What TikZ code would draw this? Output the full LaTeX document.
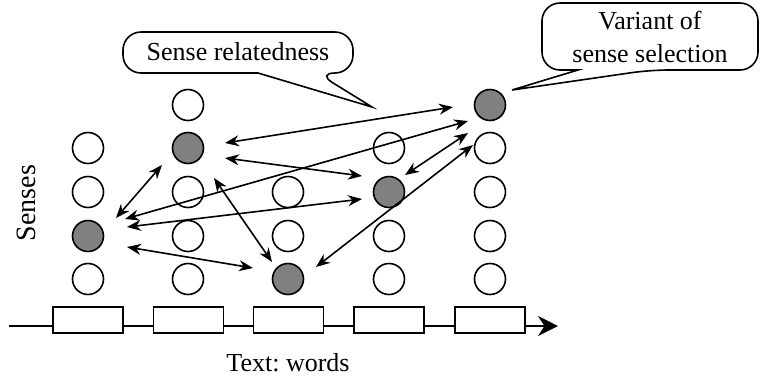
\documentclass[tikz,border=0pt]{standalone}
\usepackage{fontspec}
\setmainfont{Liberation Serif}
\usetikzlibrary{arrows.meta}
\frenchspacing

\begin{document}
\begin{tikzpicture}[x=0.5pt,y=-0.5pt,font=\fontsize{13}{16.5}\selectfont,
    sense/.style={draw,circle,line width=0.8pt,minimum size=15.5pt,inner sep=0pt},
    chosen/.style={sense,fill=black!50},
    word/.style={draw,fill=white,line width=0.8pt,minimum width=35pt,minimum height=13pt,inner sep=0pt},
    link/.style={{Stealth[length=7pt,width=5.5pt]}-{Stealth[length=7pt,width=5.5pt]},line width=0.8pt},
    bubble/.style={draw,fill=white,line width=0.8pt}]
    \useasboundingbox (0,0) rectangle (762,382);

    %Callouts
    \draw[bubble] (258,73) [rounded corners=9] -- (123,73) -- (123,32) -- (353,32) -- (353,73) -- (317,73) [sharp corners] -- (372,107) -- cycle;
    \node (rel) at (238,52) {Sense relatedness};
    \draw[bubble] (578,70) [rounded corners=9] -- (542,70) -- (542,3) -- (758,3) -- (758,70) -- (650,70) [sharp corners] -- (512,90) -- cycle;
    \node[align=center] (var) at (650,37) {Variant of\\sense selection};

    %Senses of word 1
    \node[sense]  (c11) at (88,148) {};
    \node[sense]  (c12) at (88,192) {};
    \node[chosen] (c13) at (88,236) {};
    \node[sense]  (c14) at (88,279) {};
    %Senses of word 2
    \node[sense]  (c20) at (188,105) {};
    \node[chosen] (c21) at (188,148) {};
    \node[sense]  (c22) at (188,192) {};
    \node[sense]  (c23) at (188,236) {};
    \node[sense]  (c24) at (188,279) {};
    %Senses of word 3
    \node[sense]  (c32) at (288,192) {};
    \node[sense]  (c33) at (288,236) {};
    \node[chosen] (c34) at (288,279) {};
    %Senses of word 4
    \node[sense]  (c41) at (389,148) {};
    \node[chosen] (c42) at (389,192) {};
    \node[sense]  (c43) at (389,236) {};
    \node[sense]  (c44) at (389,279) {};
    %Senses of word 5
    \node[chosen] (c50) at (490,105) {};
    \node[sense]  (c51) at (490,148) {};
    \node[sense]  (c52) at (490,192) {};
    \node[sense]  (c53) at (490,236) {};
    \node[sense]  (c54) at (490,279) {};

    %Relatedness links
    \draw[link] ([shift={(28,-18)}]c13.center) -- ([shift={(-26,17)}]c21.center);
    \draw[link] ([shift={(37,-5)}]c21.center) -- ([shift={(-37,2)}]c50.center);
    \draw[link] ([shift={(37,10)}]c21.center) -- ([shift={(-27,-16)}]c42.center);
    \draw[link] ([shift={(37,-17)}]c13.center) -- ([shift={(-22,16)}]c50.center);
    \draw[link] ([shift={(39,-9)}]c13.center) -- ([shift={(-27,7)}]c42.center);
    \draw[link] ([shift={(39,11)}]c13.center) -- ([shift={(-35,-11)}]c34.center);
    \draw[link] ([shift={(26,30)}]c21.center) -- ([shift={(-16,-17)}]c34.center);
    \draw[link] ([shift={(16,-17)}]c42.center) -- ([shift={(-22,28)}]c50.center);
    \draw[link] ([shift={(28,-12)}]c34.center) -- ([shift={(-17,40)}]c50.center);

    %Text axis
    \coordinate (tstart) at (9,326);
    \coordinate (tend) at (558,326);
    \draw[line width=0.8pt,-{Stealth[length=10pt,width=10pt]}] (tstart) -- (tend);
    \node[word] (w1) at (88,320) {};
    \node[word] (w2) at (188.5,320) {};
    \node[word] (w3) at (288.5,320) {};
    \node[word] (w4) at (389,320) {};
    \node[word] (w5) at (490,320) {};
    \node (words) at (288,363) {Text: words};
    \node[rotate=90,font=\fontsize{14}{16}\selectfont] (senses) at (26,203) {Senses};
\end{tikzpicture}
\end{document}
